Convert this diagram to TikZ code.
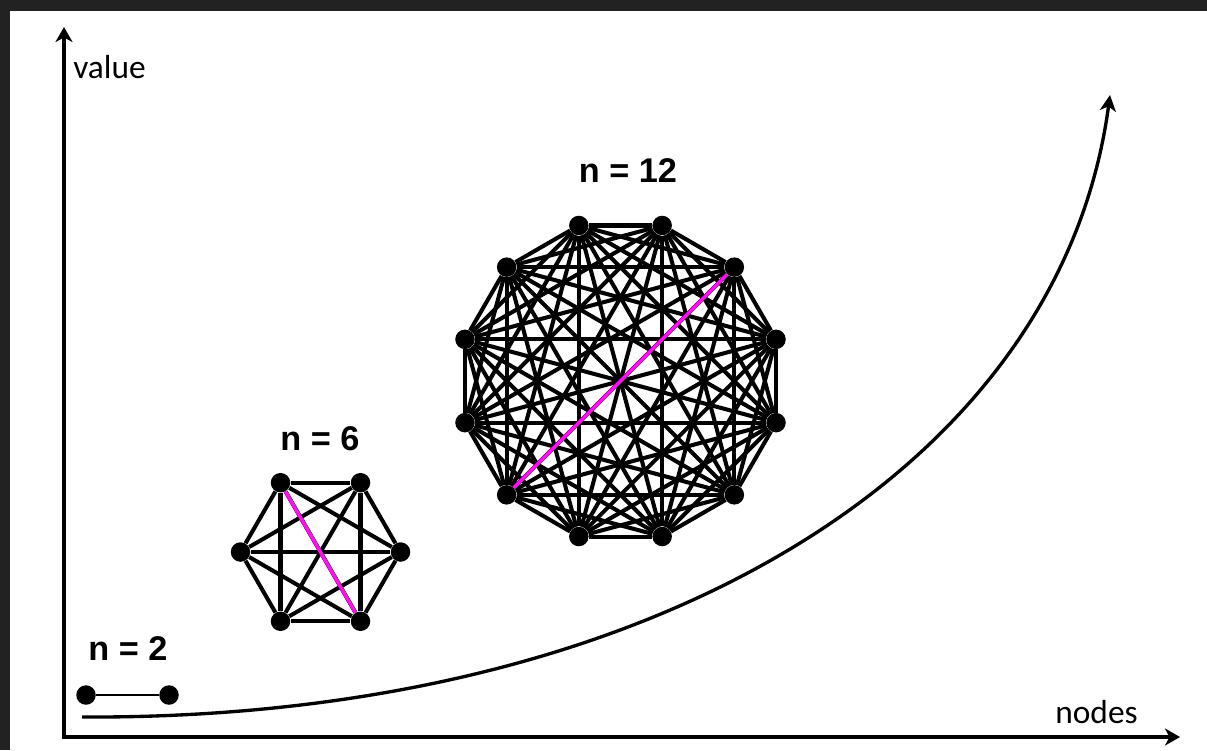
\documentclass[tikz,border=0pt]{standalone}
\usepackage{fontspec}
\setmainfont{Carlito}
\newfontfamily\headfont{Liberation Sans}
\usetikzlibrary{arrows.meta}
\definecolor{frame}{HTML}{222222}
\definecolor{pathpink}{HTML}{FF10F0}

\begin{document}
\begin{tikzpicture}[
		x=0.2mm, y=-0.2mm,
		dot/.style={circle, fill=black, inner sep=0pt, minimum size=3.9mm},
		edge/.style={line width=2.3pt},
		thinedge/.style={line width=1.6pt},
		hilite/.style={line width=2pt, draw=pathpink},
		axis/.style={line width=1.9pt, -{Stealth[length=3mm, width=3.4mm, inset=0.9mm]}},
		curve/.style={line width=1.9pt, -{Stealth[length=3.2mm, width=3.2mm, inset=0.9mm]}},
		axislabel/.style={font=\fontsize{19}{23}\selectfont, inner sep=0pt, anchor=base west},
		title/.style={font=\headfont\bfseries\fontsize{19.5}{23}\selectfont, inner sep=0pt},
	]
	% canvas and dark frame
	\useasboundingbox (0,0) rectangle (1207,750);
	\fill[white] (0,0) rectangle (1207,750);
	\fill[frame] (0,0) rectangle (1207,11);
	\fill[frame] (0,0) rectangle (10,750);

	% axes
	\coordinate (origin) at (64,737);
	\coordinate (ytop)   at (64,27);
	\coordinate (xend)   at (1180,737);
	\draw[axis] (64,739) -- (ytop);
	\draw[axis] (62,737) -- (xend);
	\node[axislabel] (yl) at (73,78)   {value};
	\node[axislabel] (xl) at (1055,723) {nodes};

	% growth curve
	\coordinate (cstart) at (82,717);
	\coordinate (cend)   at (1110,95);
	\draw[curve] (cstart) .. controls (650,720) and (1060,470) .. (cend);

	% n = 2
	\node[title] (l2) at (128,649) {n = 2};
	\node[dot] (p1) at (86,695) {};
	\node[dot] (p2) at (169,695) {};
	\draw[thinedge] (p1) -- (p2);

	% n = 6
	\node[title] (l6) at (320,439) {n = 6};
	\foreach \k in {0,...,5}
		\path (320.5,552) ++(60*\k:80) node[dot] (h\k) {};
	\foreach \i in {0,...,4} {
		\pgfmathtruncatemacro\nxt{\i+1}
		\foreach \j in {\nxt,...,5}
			\draw[edge] (h\i) -- (h\j);
	}
	\draw[hilite] (h4) -- (h1);

	% n = 12
	\node[title] (l12) at (628,171) {n = 12};
	\foreach \k in {0,...,11}
		\path (620.5,381) ++(15+30*\k:161) node[dot] (t\k) {};
	\foreach \i in {0,...,10} {
		\pgfmathtruncatemacro\nxt{\i+1}
		\foreach \j in {\nxt,...,11}
			\draw[edge] (t\i) -- (t\j);
	}
	\draw[hilite] (t4) -- (t10);
\end{tikzpicture}
\end{document}
